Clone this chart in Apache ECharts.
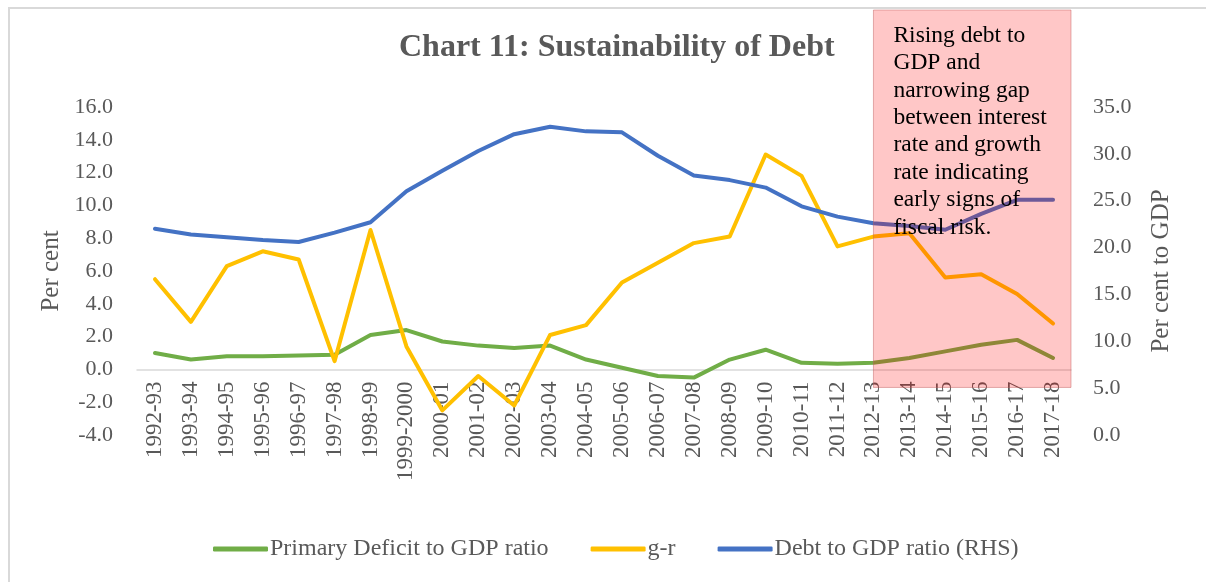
<!DOCTYPE html>
<html>
<head>
<meta charset="utf-8">
<script src="https://cdn.jsdelivr.net/npm/echarts@6/dist/echarts.min.js"></script>
<style>
  html, body { margin: 0; padding: 0; background: #fff; }
  #chart { width: 1206px; height: 582px; }
</style>
</head>
<body>
<div id="chart"></div>
<script>
const categories = ['1992-93','1993-94','1994-95','1995-96','1996-97','1997-98','1998-99','1999-2000','2000-01','2001-02','2002-03','2003-04','2004-05','2005-06','2006-07','2007-08','2008-09','2009-10','2010-11','2011-12','2012-13','2013-14','2014-15','2015-16','2016-17','2017-18'];
const primaryDeficit = [1.0, 0.6, 0.8, 0.8, 0.85, 0.9, 2.1, 2.4, 1.7, 1.45, 1.3, 1.45, 0.6, 0.1, -0.4, -0.5, 0.6, 1.2, 0.4, 0.35, 0.4, 0.7, 1.1, 1.5, 1.8, 0.7];
const gMinusR = [5.5, 2.9, 6.3, 7.2, 6.7, 0.5, 8.5, 1.4, -2.5, -0.4, -2.2, 2.1, 2.7, 5.3, 6.5, 7.7, 8.1, 13.1, 11.8, 7.5, 8.1, 8.3, 5.6, 5.8, 4.6, 2.8];
const debtToGdp = [22.0, 21.4, 21.1, 20.8, 20.6, 21.6, 22.7, 26.0, 28.2, 30.3, 32.1, 32.9, 32.4, 32.3, 29.8, 27.7, 27.2, 26.4, 24.4, 23.3, 22.6, 22.3, 21.9, 23.6, 25.1, 25.1];
const seriesNames = ['Primary Deficit to GDP ratio', 'g-r', 'Debt to GDP ratio (RHS)'];
const titleText = 'Chart 11: Sustainability of Debt';
const noteText = 'Rising debt to\nGDP and\nnarrowing gap\nbetween interest\nrate and growth\nrate indicating\nearly signs of\nfiscal risk.';

const FONT = '"Liberation Serif", "Times New Roman", serif';
const GREY = '#595959';
const GRID_TOP = 107, GRID_H = 328, GRID_LEFT = 137, GRID_RIGHT = 135;

const chart = echarts.init(document.getElementById('chart'), null, { renderer: 'canvas' });

const option = {
  animation: false,
  backgroundColor: '#fff',
  textStyle: { fontFamily: FONT },
  title: {
    text: titleText,
    left: 394,
    top: 27,
    textStyle: { fontFamily: FONT, fontSize: 32, fontWeight: 'bold', color: GREY }
  },
  legend: {
    bottom: 16,
    left: 208,
    itemWidth: 55,
    itemHeight: 5,
    itemGap: 42,
    icon: 'roundRect',
    textStyle: { fontFamily: FONT, fontSize: 24, color: GREY, padding: [0, 0, 0, -3] },
    data: seriesNames
  },
  grid: { left: GRID_LEFT, right: GRID_RIGHT, top: GRID_TOP, height: GRID_H },
  xAxis: {
    type: 'category',
    data: categories,
    boundaryGap: true,
    axisLine: { show: true, onZero: false, lineStyle: { color: '#D9D9D9', width: 1.5 } },
    axisTick: { show: false },
    axisLabel: { rotate: 90, margin: 12, fontFamily: FONT, fontSize: 23, color: GREY, interval: 0 }
  },
  yAxis: [
    {
      type: 'value', min: -4, max: 16, interval: 2,
      name: 'Per cent', nameLocation: 'middle', nameGap: 70, nameRotate: 90,
      nameTextStyle: { fontFamily: FONT, fontSize: 25, color: GREY },
      axisLine: { show: false }, axisTick: { show: false }, splitLine: { show: false },
      axisLabel: { margin: 24, fontFamily: FONT, fontSize: 22, color: GREY, formatter: v => v.toFixed(1) }
    },
    {
      type: 'value', min: 0, max: 35, interval: 5,
      name: 'Per cent to GDP', nameLocation: 'middle', nameGap: 78, nameRotate: 90,
      nameTextStyle: { fontFamily: FONT, fontSize: 25, color: GREY },
      axisLine: { show: false }, axisTick: { show: false }, splitLine: { show: false },
      axisLabel: { margin: 22, fontFamily: FONT, fontSize: 22, color: GREY, formatter: v => v.toFixed(1) }
    }
  ],
  series: [
    {
      name: seriesNames[0], type: 'line', yAxisIndex: 0, data: primaryDeficit,
      showSymbol: false, symbol: 'none', color: '#70AD47',
      lineStyle: { width: 4, color: '#70AD47', cap: 'round', join: 'round' }
    },
    {
      name: seriesNames[1], type: 'line', yAxisIndex: 0, data: gMinusR,
      showSymbol: false, symbol: 'none', color: '#FFC000',
      lineStyle: { width: 4, color: '#FFC000', cap: 'round', join: 'round' }
    },
    {
      name: seriesNames[2], type: 'line', yAxisIndex: 1, data: debtToGdp,
      showSymbol: false, symbol: 'none', color: '#4472C4',
      lineStyle: { width: 4, color: '#4472C4', cap: 'round', join: 'round' }
    }
  ]
};
chart.setOption(option);

// Move the category axis (line + labels) up to the left axis's zero value
const zeroY = chart.convertToPixel({ yAxisIndex: 0 }, 0);
const gridBottomY = GRID_TOP + GRID_H;

// Annotation box anchored to the 2012-13 category and the grid's right edge
const boxLeft = chart.convertToPixel({ xAxisIndex: 0 }, '2012-13');
const gridRightX = 1206 - GRID_RIGHT;
const boxBottom = chart.convertToPixel({ yAxisIndex: 0 }, -1.1);
chart.setOption({
  xAxis: { offset: -(gridBottomY - zeroY) },
  graphic: [
    {
      type: 'rect', z: -1, silent: true,
      shape: { x: 9, y: 8, width: 1400, height: 800 },
      style: { fill: 'none', stroke: '#D9D9D9', lineWidth: 2 }
    },
    {
      type: 'rect', z: 50, silent: true,
      shape: { x: boxLeft, y: 10, width: gridRightX - boxLeft, height: boxBottom - 10 },
      style: { fill: 'rgba(255,0,0,0.22)', stroke: 'rgba(190,90,90,0.45)', lineWidth: 1 }
    },
    {
      type: 'text', z: 60, silent: true,
      x: boxLeft + 20, y: 22,
      style: { text: noteText, fontFamily: FONT, fontSize: 23.5, lineHeight: 27.4, fill: '#000' }
    }
  ]
});
</script>
</body>
</html>
